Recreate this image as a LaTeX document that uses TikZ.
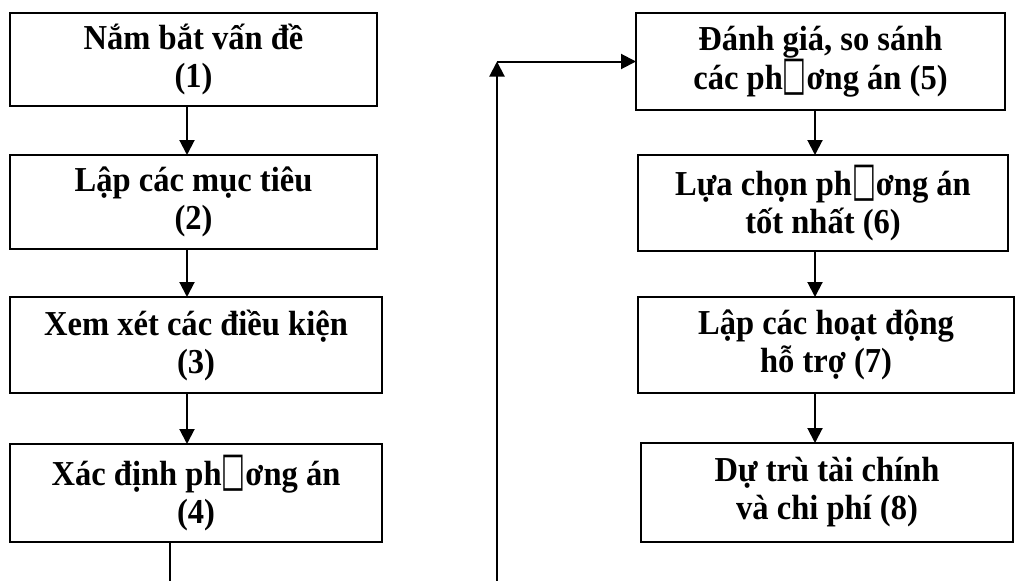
\documentclass[tikz,border=0pt]{standalone}
\usepackage{fontspec}
\setmainfont{Liberation Serif}[FakeStretch=0.93]
\newfontfamily\symfont{DejaVu Sans}
\usetikzlibrary{arrows.meta}
\usepackage{graphicx}
% placeholder box that stands for the glyph the font could not show
\newcommand{\nog}{{\symfont\scalebox{0.72}[1.35]{□}}}
\tikzset{
  stepbox/.style={draw, line width=2.3pt, inner sep=0pt, outer sep=0pt,
    align=center, font=\fontsize{35}{38}\selectfont\bfseries,
    execute at begin node={\rule{0pt}{44pt}}},
  flow/.style={line width=2pt, -{Triangle[length=15pt,width=15pt]}},
  plain/.style={line width=2pt}
}
\begin{document}
\begin{tikzpicture}[x=1pt,y=-1pt]
\useasboundingbox (0,0) rectangle (1015,581);
% left column
\node[stepbox, minimum width=367pt, minimum height=93pt] (b1) at (193.5,59.5) {Nắm bắt vấn đề\\(1)};
\node[stepbox, minimum width=367pt, minimum height=94pt] (b2) at (193.5,202) {Lập các mục tiêu\\(2)};
\node[stepbox, minimum width=372pt, minimum height=96pt] (b3) at (196,345) {Xem xét các điều kiện\\(3)};
\node[stepbox, minimum width=372pt, minimum height=98pt] (b4) at (196,493) {Xác định ph\nog ơng án\\(4)};
% right column
\node[stepbox, minimum width=369pt, minimum height=97pt] (b5) at (820.5,61.5) {Đánh giá, so sánh\\các ph\nog ơng án (5)};
\node[stepbox, minimum width=370pt, minimum height=96pt] (b6) at (823,203) {Lựa chọn ph\nog ơng án\\tốt nhất (6)};
\node[stepbox, minimum width=376pt, minimum height=96pt] (b7) at (826,345) {Lập các hoạt động\\hỗ trợ (7)};
\node[stepbox, minimum width=372pt, minimum height=99pt] (b8) at (827,492.5) {Dự trù tài chính\\và chi phí (8)};
% guide coordinates for the arrow columns and the loop
\coordinate (la) at (187,0);
\coordinate (ra) at (815,0);
\coordinate (down) at (170,581);
\coordinate (up) at (497,581);
\coordinate (corner) at (497,61.5);
% arrows between steps
\draw[flow] (b1.south -| la) -- (b2.north -| la);
\draw[flow] (b2.south -| la) -- (b3.north -| la);
\draw[flow] (b3.south -| la) -- (b4.north -| la);
\draw[flow] (b5.south -| ra) -- (b6.north -| ra);
\draw[flow] (b6.south -| ra) -- (b7.north -| ra);
\draw[flow] (b7.south -| ra) -- (b8.north -| ra);
% link from step 4 back up to step 5
\draw[plain] (b4.south -| down) -- (down);
\draw[flow] (up) -- (corner);
\draw[flow] (corner) -- (b5.west);
\end{tikzpicture}
\end{document}
